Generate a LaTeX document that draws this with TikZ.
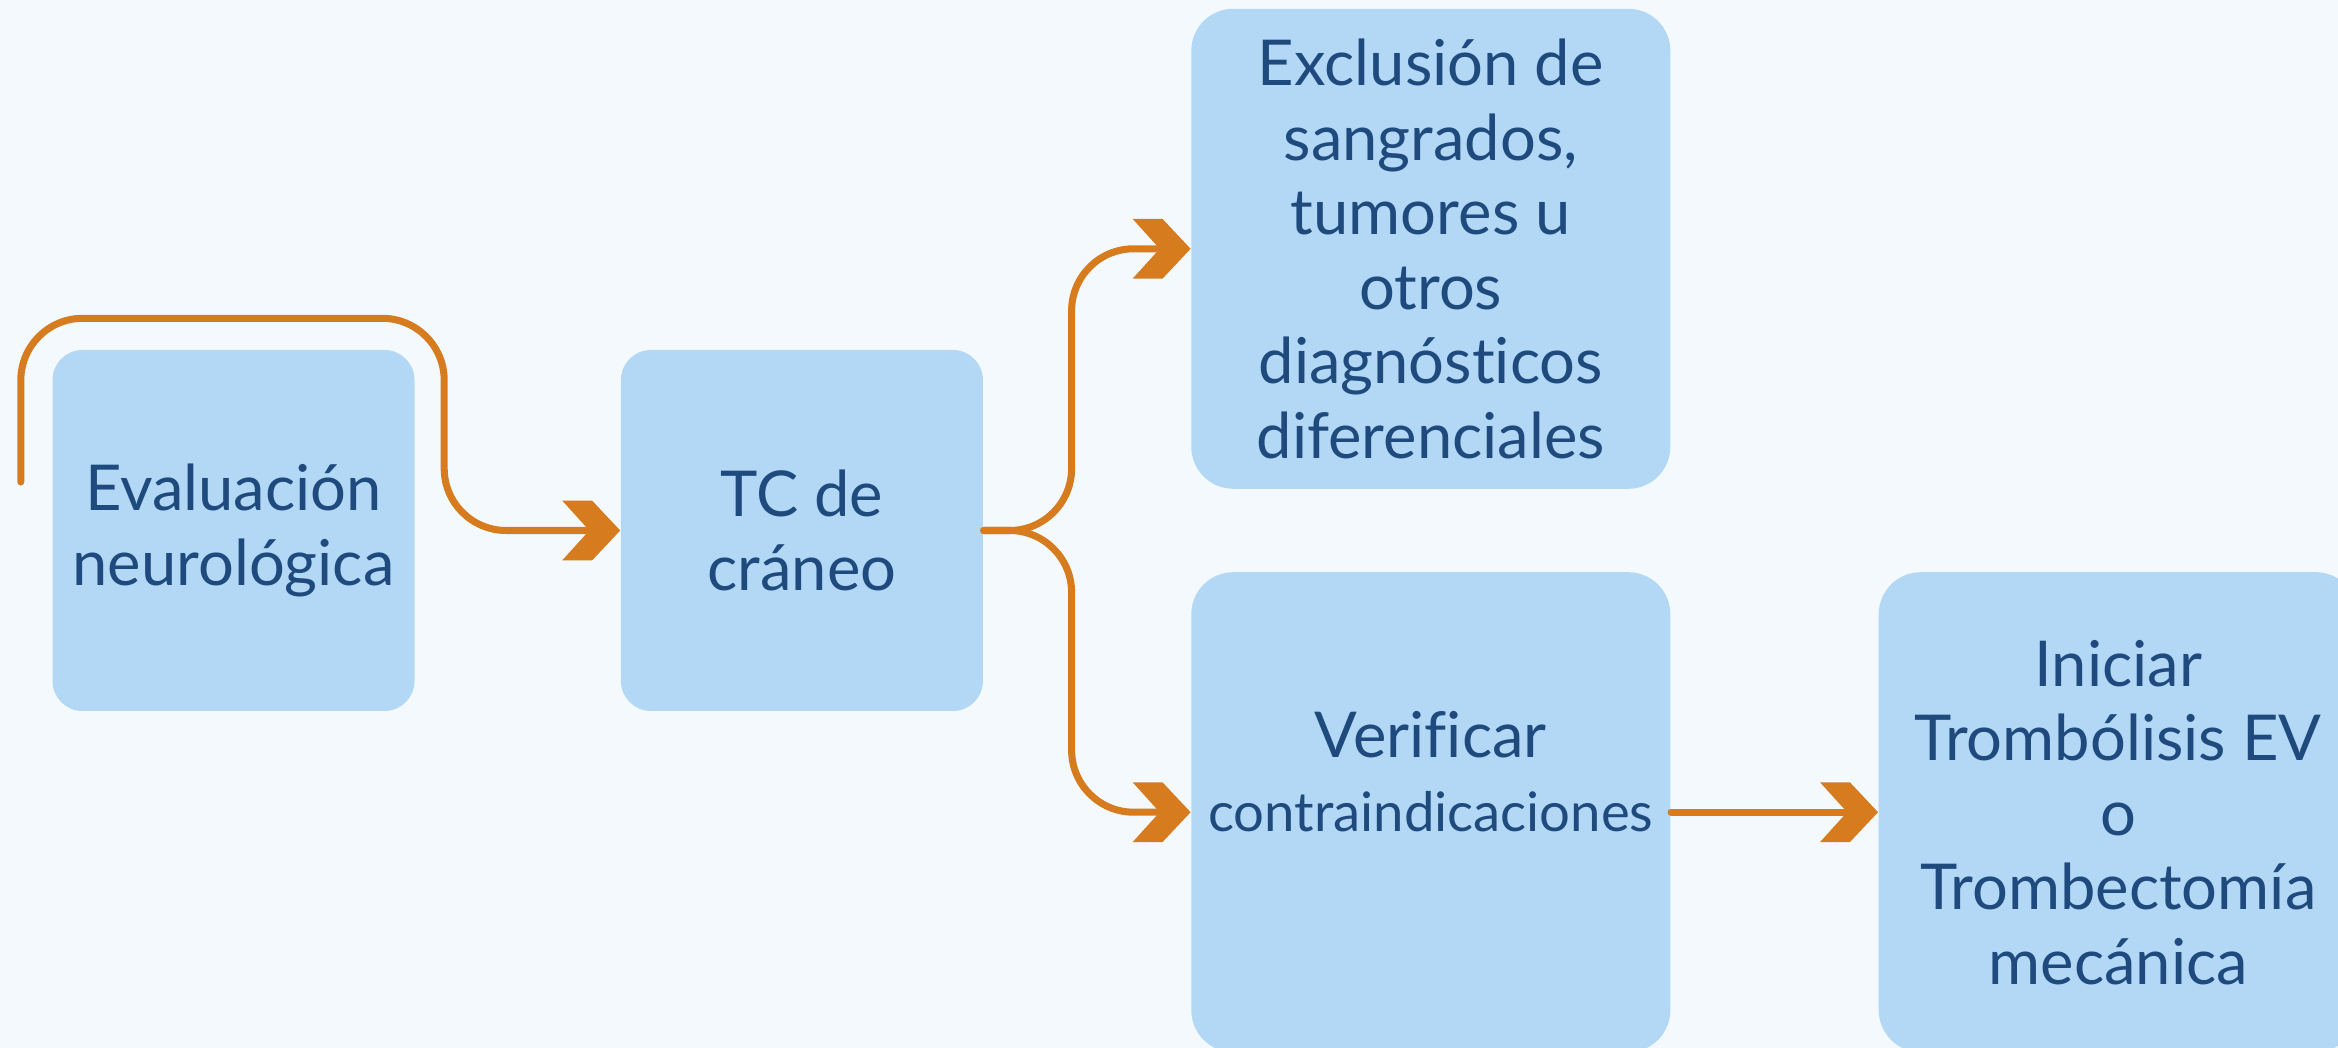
\documentclass[tikz,border=0pt]{standalone}
\usepackage{fontspec}
\setmainfont{Lato}[Ligatures=NoCommon]
\usetikzlibrary{positioning, calc, arrows.meta}

\definecolor{bgpaper}{HTML}{F4F9FD}
\definecolor{boxblue}{HTML}{B2D8F5}
\definecolor{txtblue}{HTML}{1F4A7E}
\definecolor{flowora}{HTML}{D67B1E}

% Ponta de seta em forma de chevron
\pgfdeclarearrow{
  name = Chevron,
  setup code = {
    \pgfarrowssettipend{0pt}
    \pgfarrowssetlineend{-6pt}
    \pgfarrowssetbackend{-16.5pt}
    \pgfarrowshullpoint{0pt}{0pt}
    \pgfarrowsupperhullpoint{-8pt}{8.5pt}
    \pgfarrowsupperhullpoint{-16.5pt}{8.5pt}
  },
  drawing code = {
    \pgfsetcornersarced{\pgfpointorigin}
    \pgfpathmoveto{\pgfpointorigin}
    \pgfpathlineto{\pgfpoint{-8pt}{8.5pt}}
    \pgfpathlineto{\pgfpoint{-16.5pt}{8.5pt}}
    \pgfpathlineto{\pgfpoint{-8.8pt}{0pt}}
    \pgfpathlineto{\pgfpoint{-16.5pt}{-8.5pt}}
    \pgfpathlineto{\pgfpoint{-8pt}{-8.5pt}}
    \pgfpathclose
    \pgfusepathqfill
  }
}

\begin{document}
\begin{tikzpicture}[
    node distance=2.05cm,
    font=\fontsize{18}{21.2}\selectfont,
    % Estilos
    box/.style={
        rectangle, rounded corners=0.3cm, fill=boxblue, align=center,
        text=txtblue, inner sep=0pt,
        minimum width=3.62cm, minimum height=3.61cm
    },
    bigbox/.style={
        box, rounded corners=0.42cm,
        minimum width=4.79cm, minimum height=4.8cm
    },
    flow/.style={-Chevron, draw=flowora, line width=2pt, line cap=round, rounded corners=0.62cm}
]

    % --- FUNDO ---
    \fill[bgpaper] (0,0) rectangle (23.38,10.48);
    \useasboundingbox (0,0) rectangle (23.38,10.48);

    % --- NÓS ---
    \node[box] (eval) at (2.335,5.175) {Evaluación\\neurológica};
    \node[box, right=2.05cm of eval] (tc) {TC de\\cráneo};

    % Coordenada auxiliar para a coluna das duas caixas grandes
    \coordinate[right=2.07cm of tc] (aux_col);

    \node[bigbox, anchor=south west] (excl) at ([yshift=0.41cm]aux_col) {Exclusión de\\sangrados,\\tumores u\\otros\\diagnósticos\\diferenciales};
    \node[bigbox, anchor=north west] (verif) at ([yshift=-0.41cm]aux_col) {Verificar\\{\fontsize{15.5}{19.6}\selectfont contraindicaciones}\\[2pt]\mbox{}};
    \node[bigbox, right=2.07cm of verif] (inicio) {Iniciar\\Trombólisis EV\\o\\Trombectomía\\mecánica};

    % --- CONEXÕES ---
    % Laço em volta da primeira caixa
    \coordinate (loop_start) at ([shift={(-0.31,0.485)}]eval.west);
    \coordinate (loop_ne) at ([shift={(0.29,0.31)}]eval.north east);
    \draw[flow] (loop_start) |- (loop_ne) |- (tc.west);

    % Bifurcação
    \draw[flow] (tc.east) -- ++(0.88,0) |- (excl.west);
    \draw[flow] (tc.east) -- ++(0.88,0) |- (verif.west);

    \draw[flow] (verif.east) -- (inicio.west);

\end{tikzpicture}
\end{document}
